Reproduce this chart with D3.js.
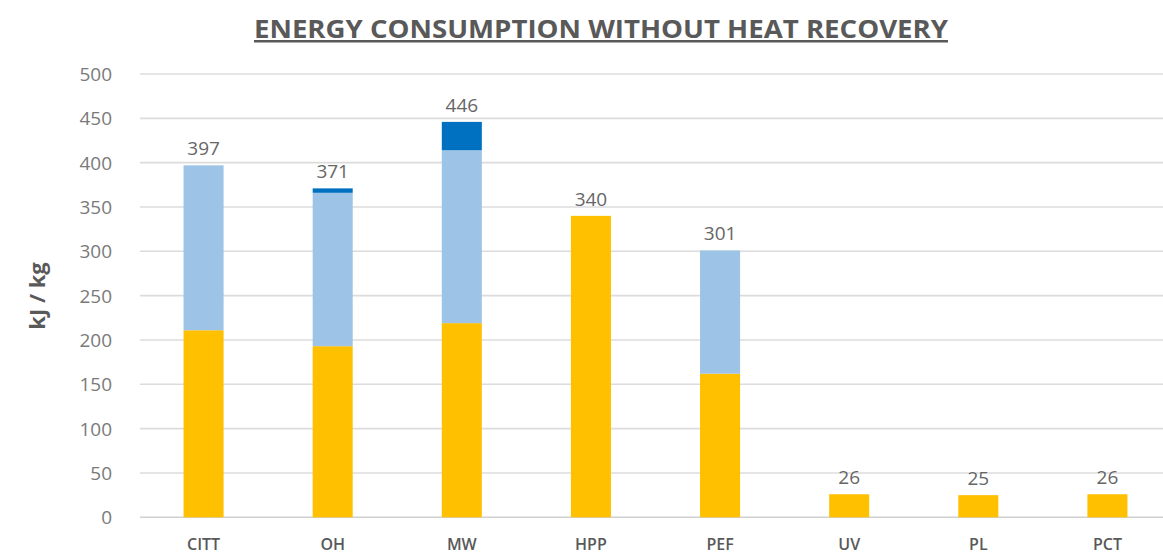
<!DOCTYPE html>
<html><head><meta charset="utf-8">
<script src="https://cdn.jsdelivr.net/npm/d3@7"></script>
<style>body{margin:0;background:#fff}svg{display:block}</style>
</head><body>
<svg id="c" width="1163" height="556"></svg>
<script>
const categories = ["CITT","OH","MW","HPP","PEF","UV","PL","PCT"];
const seriesA = [211,193,219,340,162,26,25,26];   // yellow
const seriesB = [186,173,195,0,139,0,0,0];        // light blue
const seriesC = [0,5,32,0,0,0,0,0];               // dark blue
const totals = [397,371,446,340,301,26,25,26];
const yTicks = [0,50,100,150,200,250,300,350,400,450,500];
const colors = ["#FFC000","#9DC3E6","#0070C0"];

const svg = d3.select("#c");
const x = d3.scaleBand().domain(categories).range([139,1172]).paddingInner(0.69).paddingOuter(0.345);
const y = d3.scaleLinear().domain([0,500]).range([517.3,74]);

// gridlines
svg.append("g").selectAll("line").data(yTicks).join("line")
  .attr("x1",140).attr("x2",1172).attr("y1",d=>y(d)).attr("y2",d=>y(d))
  .attr("stroke",d=>d===0?"#d0d0d0":"#dcdcdc").attr("stroke-width",1.6);

// y axis labels
const yAxis = d3.axisLeft(y).tickValues(yTicks).tickSize(0).tickPadding(0);
const ya = svg.append("g").attr("transform","translate(112,0)").call(yAxis);
ya.select(".domain").remove();
ya.selectAll("text").attr("font-family","Open Sans").attr("font-size",19).attr("fill","#7a7a7a").attr("dy","0.34em");

// stacked bars
const rows = categories.map((c,i)=>({cat:c,A:seriesA[i],B:seriesB[i],C:seriesC[i]}));
const stack = d3.stack().keys(["A","B","C"])(rows);
svg.append("g").selectAll("g").data(stack).join("g").attr("fill",(d,i)=>colors[i])
  .selectAll("rect").data(d=>d.filter(s=>s[1]-s[0]>0)).join("rect")
  .attr("x",d=>x(d.data.cat)).attr("width",x.bandwidth())
  .attr("y",d=>y(d[1])).attr("height",d=>y(d[0])-y(d[1]));

// value labels
svg.append("g").selectAll("text").data(categories).join("text")
  .attr("x",d=>x(d)+x.bandwidth()/2).attr("y",(d,i)=>y(totals[i])-10)
  .attr("text-anchor","middle").attr("font-family","Open Sans").attr("font-size",19)
  .attr("fill","#666").text((d,i)=>totals[i]);

// x labels
const xAxis = d3.axisBottom(x).tickSize(0).tickPadding(0);
const xa = svg.append("g").attr("transform","translate(0,539)").call(xAxis);
xa.select(".domain").remove();
xa.selectAll("text").attr("font-family","Open Sans").attr("font-weight",600).attr("font-size",16).attr("fill","#595959").attr("dy","0.71em");

// y title
svg.append("text").attr("transform","translate(45,296) rotate(-90)")
  .attr("text-anchor","middle").attr("font-family","Open Sans").attr("font-weight",700)
  .attr("font-size",22).attr("fill","#595959").text("kJ / kg");

// title
svg.append("text").attr("x",601).attr("y",38).attr("text-anchor","middle")
  .attr("font-family","Open Sans").attr("font-weight",700).attr("font-size",25)
  .attr("textLength",694).attr("lengthAdjust","spacingAndGlyphs")
  .attr("fill","#595959").attr("text-decoration","underline")
  .text("ENERGY CONSUMPTION WITHOUT HEAT RECOVERY");
</script>
</body></html>
